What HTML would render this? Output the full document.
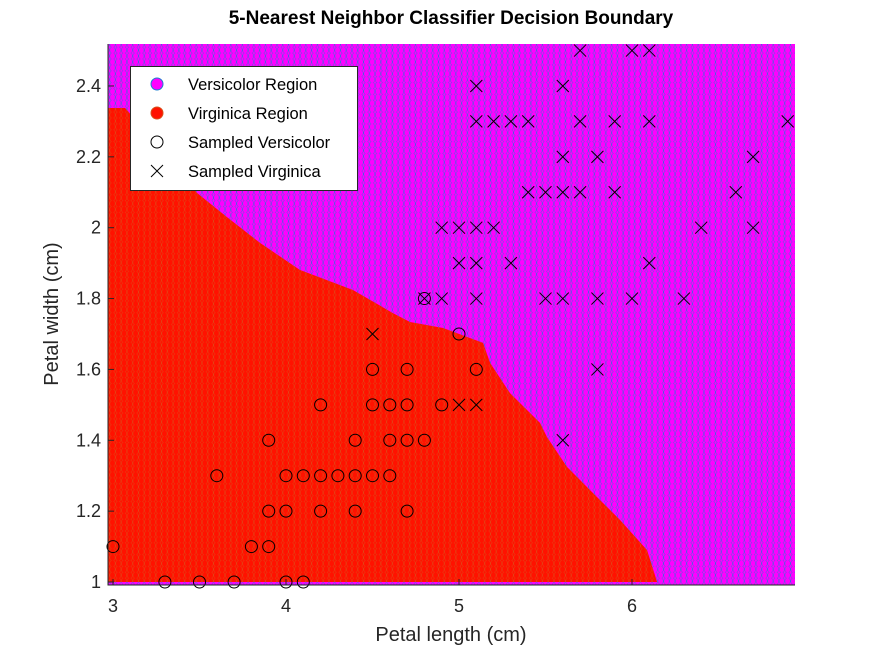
<!DOCTYPE html>
<html><head><meta charset="utf-8"><style>
body{margin:0;background:#fff;font-family:"Liberation Sans",sans-serif}
svg text{font-family:"Liberation Sans",sans-serif}
</style></head><body>
<svg id="chart" width="872" height="654" xmlns="http://www.w3.org/2000/svg">
<defs>
<pattern id="pm" width="5.77" height="5.9" patternUnits="userSpaceOnUse">
<rect width="5.77" height="5.9" fill="#ff00ff"/>
<ellipse cx="2.9" cy="2.95" rx="2.7" ry="3.3" fill="none" stroke="#1a80d0" stroke-width="0.45"/>
</pattern>
<pattern id="pr" width="5.77" height="5.9" patternUnits="userSpaceOnUse">
<rect width="5.77" height="5.9" fill="#ff1200"/>
<ellipse cx="2.9" cy="2.95" rx="2.7" ry="3.3" fill="none" stroke="#d9501a" stroke-width="0.45"/>
</pattern>
</defs>
<g id="plot"></g>
</svg>
<script>
const xTicks=[3,4,5,6];
const yTicks=[1,1.2,1.4,1.6,1.8,2,2.2,2.4];
const yTickLabels=["1","1.2","1.4","1.6","1.8","2","2.2","2.4"];
const boundaryX=[2.97,2.97,3.07,3.486,3.659,3.85,4.08,4.387,4.618,4.717,4.908,5.139,5.18,5.295,5.468,5.509,5.624,5.775,5.931,6.087,6.145];
const boundaryY=[1.0,2.338,2.338,2.098,2.03,1.957,1.881,1.824,1.759,1.734,1.717,1.675,1.618,1.533,1.449,1.409,1.325,1.251,1.175,1.09,1.0];
const versX=[3.0,3.3,3.5,3.7,4.0,4.1,3.6,3.8,3.9,3.9,3.9,4.0,4.0,4.1,4.2,4.2,4.2,4.3,4.4,4.4,4.4,4.5,4.5,4.5,4.6,4.6,4.6,4.7,4.7,4.7,4.7,4.8,4.8,4.9,5.0,5.1];
const versY=[1.1,1.0,1.0,1.0,1.0,1.0,1.3,1.1,1.1,1.4,1.2,1.2,1.3,1.3,1.5,1.3,1.2,1.3,1.4,1.3,1.2,1.6,1.5,1.3,1.5,1.4,1.3,1.6,1.5,1.4,1.2,1.4,1.8,1.5,1.7,1.6];
const virgX=[4.5,4.8,4.9,5.0,5.1,5.6,5.8,4.9,5.0,5.1,5.2,5.0,5.1,5.3,5.1,5.5,5.6,5.8,6.0,6.3,5.4,5.5,5.6,5.7,5.9,5.6,5.8,6.7,6.6,6.4,6.7,6.1,5.1,5.2,5.3,5.4,5.7,5.9,6.1,6.9,5.1,5.6,5.7,6.0,6.1];
const virgY=[1.7,1.8,1.8,1.5,1.5,1.4,1.6,2.0,2.0,2.0,2.0,1.9,1.9,1.9,1.8,1.8,1.8,1.8,1.8,1.8,2.1,2.1,2.1,2.1,2.1,2.2,2.2,2.2,2.1,2.0,2.0,1.9,2.3,2.3,2.3,2.3,2.3,2.3,2.3,2.3,2.4,2.4,2.5,2.5,2.5];
const X0=108,X1=795,Y0=44,Y1=585;
const sx=v=>113+(v-3)*173;
const sy=v=>582-(v-1)*354.3;
const NS="http://www.w3.org/2000/svg";
const g=document.getElementById('plot');
function mk(t,a,p){const e=document.createElementNS(NS,t);for(const k in a)e.setAttribute(k,a[k]);(p||g).appendChild(e);return e;}
let e;
e=mk('rect',{x:X0,y:Y0,width:X1-X0,height:Y1-Y0,fill:'url(#pm)'});


e=mk('polygon',{points:boundaryX.map((x,i)=>sx(x)+','+sy(boundaryY[i])).join(' '),fill:'url(#pr)'});


versX.forEach((x,i)=>{
  e=mk('circle',{cx:sx(x),cy:sy(versY[i]),r:6,fill:'none',stroke:'#000','stroke-width':1});
  
  
});
virgX.forEach((x,i)=>{
  const cx=sx(x),cy=sy(virgY[i]);
  e=mk('path',{d:`M${cx-6},${cy-6}L${cx+6},${cy+6}M${cx-6},${cy+6}L${cx+6},${cy-6}`,stroke:'#000','stroke-width':1});
  
  
});
e=mk('path',{d:`M${X0},${Y0}V${Y1}H${X1}`,stroke:'#262626',fill:'none','stroke-width':1});


xTicks.forEach(v=>{
  mk('path',{d:`M${sx(v)},${Y1}v-6`,stroke:'#262626'});
  e=mk('text',{x:sx(v),y:612,'text-anchor':'middle','font-size':18,fill:'#262626'});
  e.textContent=String(v);
  
  
});
yTicks.forEach((v,i)=>{
  mk('path',{d:`M${X0},${sy(v)}h6`,stroke:'#262626'});
  e=mk('text',{x:101,y:sy(v)+6,'text-anchor':'end','font-size':18,fill:'#262626'});
  e.textContent=yTickLabels[i];
  
  
});
e=mk('text',{x:451,y:641,'text-anchor':'middle','font-size':20,fill:'#262626'});
e.textContent='Petal length (cm)';


e=mk('text',{x:58,y:314,'text-anchor':'middle','font-size':20,fill:'#262626',transform:'rotate(-90 58 314)'});
e.textContent='Petal width (cm)';


e=mk('text',{x:451,y:24,'text-anchor':'middle','font-size':19,'font-weight':'bold',fill:'#000'});
e.textContent='5-Nearest Neighbor Classifier Decision Boundary';


const lg=mk('g',{});


mk('rect',{x:130.5,y:66.5,width:227,height:124,fill:'#fff',stroke:'#262626'},lg);
const legendLabels=['Versicolor Region','Virginica Region','Sampled Versicolor','Sampled Virginica'];
legendLabels.forEach((t,i)=>{
  const y=84+i*29;
  if(i==0)mk('circle',{cx:157,cy:y,r:6,fill:'#ff00ff',stroke:'#1a80d0'},lg);
  if(i==1)mk('circle',{cx:157,cy:y,r:6,fill:'#ff1200',stroke:'#d9501a'},lg);
  if(i==2)mk('circle',{cx:157,cy:y,r:6,fill:'none',stroke:'#000'},lg);
  if(i==3)mk('path',{d:`M151,${y-6}L163,${y+6}M151,${y+6}L163,${y-6}`,stroke:'#000'},lg);
  e=mk('text',{x:188,y:y+6,'font-size':16.5,fill:'#000'},lg);
  e.textContent=t;
  
  
});
</script>
</body></html>
